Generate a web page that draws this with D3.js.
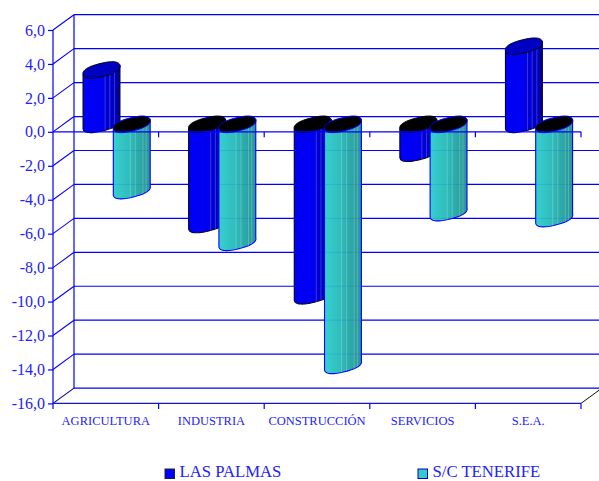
<!DOCTYPE html>
<html>
<head>
<meta charset="utf-8">
<script src="https://cdn.jsdelivr.net/npm/d3@7"></script>
<style>
  html, body { margin: 0; padding: 0; background: #fff; overflow: hidden; }
  text { font-family: "Liberation Serif", serif; fill: #2222ff; }
</style>
</head>
<body>
<svg id="chart" width="599" height="481"></svg>
<script>
const categories = ["AGRICULTURA", "INDUSTRIA", "CONSTRUCCIÓN", "SERVICIOS", "S.E.A."];
const seriesNames = ["LAS PALMAS", "S/C TENERIFE"];
const lasPalmas = [3.2, -5.9, -10.1, -1.7, 4.6];
const tenerife = [-3.9, -6.95, -14.2, -5.2, -5.55];
const yTicks = [6, 4, 2, 0, -2, -4, -6, -8, -10, -12, -14, -16];

const blue = "#0000ff";
const depth = { x: 21, y: -15.3 };
const barW = 36;
const svg = d3.select("#chart");

const y = d3.scaleLinear().domain([-16, 6]).range([403.4, 30]);
const x0 = d3.scaleBand().domain(categories).range([53, 581]);
const x1 = d3.scaleBand().domain(seriesNames).range([30.5, 91]);
const fmt = (d) => d3.format(".1f")(d).replace(".", ",").replace("−", "-");

// gradients for the cylinder sides
const defs = svg.append("defs");
function addGradient(id, stops) {
  const g = defs.append("linearGradient").attr("id", id);
  stops.forEach((s) => g.append("stop").attr("offset", s[0]).attr("stop-color", s[1]));
}
addGradient("gradBlue", [[0, "#0000f8"], [0.55, "#0000f0"], [0.6, "#0000d8"], [0.85, "#0000c0"], [1, "#000098"]]);
addGradient("gradTeal", [[0, "#38cfcf"], [0.45, "#2fbcbc"], [0.6, "#2dafaf"], [1, "#2a9696"]]);

// back wall and gridlines
const gridY = (d) => y(d) + depth.y;
svg.append("g").selectAll("line").data(yTicks).join("line")
  .attr("x1", 53 + depth.x).attr("x2", 600)
  .attr("y1", gridY).attr("y2", gridY)
  .attr("stroke", blue).attr("stroke-width", 1.2);
svg.append("line").attr("x1", 74).attr("x2", 74)
  .attr("y1", y(6) + depth.y).attr("y2", y(-16) + depth.y)
  .attr("stroke", blue).attr("stroke-width", 1.2);
// diagonals on the side wall
svg.append("g").selectAll("line").data(yTicks).join("line")
  .attr("x1", 53).attr("x2", 53 + depth.x)
  .attr("y1", (d) => y(d)).attr("y2", gridY)
  .attr("stroke", (d) => (d === -16 ? "#0000a0" : blue)).attr("stroke-width", 1.1);
svg.append("line").attr("x1", 581).attr("x2", 581 + depth.x)
  .attr("y1", y(-16)).attr("y2", y(-16) + depth.y)
  .attr("stroke", "#111").attr("stroke-width", 1);

// one cylinder, the cap is a slightly squared tilted ellipse like the original
const rx = 19, ry = 6.6, tilt = 14 * Math.PI / 180, power = 2.4;
const spow = (a) => Math.sign(a) * Math.pow(Math.abs(a), 2 / power);
function capPoint(cx, cy, t) {
  const px = rx * spow(Math.cos(t)), py = ry * spow(Math.sin(t));
  return [cx + px * Math.cos(tilt) + py * Math.sin(tilt),
          cy - px * Math.sin(tilt) + py * Math.cos(tilt)];
}
const line = d3.line();
const lowerArc = d3.range(0, 37).map((i) => Math.PI - i * Math.PI / 36);
const wholeCap = d3.range(0, 72).map((i) => i * Math.PI / 36);
let clipId = 0;

function drawBar(g, x, v, gradient, stripes, outline, topFill) {
  const yTop = y(Math.max(v, 0));
  const yBot = y(Math.min(v, 0));
  const cx = x + barW / 2;
  const cyTop = yTop - 7.5, cyBot = yBot - 7.5;
  const pts = lowerArc.map((t) => capPoint(cx, cyBot, t));
  pts.unshift(capPoint(cx, cyTop, Math.PI));
  pts.push(capPoint(cx, cyTop, 0));
  const body = line(pts) + "Z";
  const id = "clip" + clipId++;
  defs.append("clipPath").attr("id", id).append("path").attr("d", body);
  g.append("path").attr("d", body).attr("fill", `url(#${gradient})`)
    .attr("stroke", outline).attr("stroke-width", 1.1);
  const inner = g.append("g").attr("clip-path", `url(#${id})`);
  inner.selectAll("line.stripe").data(stripes).join("line")
    .attr("class", "stripe")
    .attr("x1", (f) => x + f * barW).attr("x2", (f) => x + f * barW)
    .attr("y1", cyTop - 12).attr("y2", cyBot + 12)
    .attr("stroke", "#fff").attr("stroke-opacity", 0.22).attr("stroke-width", 1);
  // the wall lines show faintly through the bars
  inner.selectAll("line.grid").data(yTicks).join("line")
    .attr("class", "grid")
    .attr("x1", x - 2).attr("x2", x + barW + 2)
    .attr("y1", gridY).attr("y2", gridY)
    .attr("stroke", blue).attr("stroke-opacity", 0.1).attr("stroke-width", 1);
  g.append("path").attr("d", line(wholeCap.map((t) => capPoint(cx, cyTop, t))) + "Z")
    .attr("fill", topFill).attr("stroke", outline).attr("stroke-width", 1);
}

const bars = svg.append("g");
categories.forEach((c, i) => {
  const xa = x0(c) + x1(seriesNames[0]);
  const xb = x0(c) + x1(seriesNames[1]);
  drawBar(bars, xa, lasPalmas[i], "gradBlue", [0.6, 0.73, 0.86], "#000020", lasPalmas[i] > 0 ? "#0000c0" : "#000");
  drawBar(bars, xb, tenerife[i], "gradTeal", [0.46, 0.6, 0.81, 0.9], blue, "#000");
});

// y axis
const yAxis = svg.append("g").attr("transform", "translate(53,0)")
  .call(d3.axisLeft(y).tickValues(yTicks).tickFormat(fmt).tickSize(5).tickPadding(3));
yAxis.select(".domain").attr("stroke", blue).attr("stroke-width", 1.2).attr("d", "M0,30V409");
yAxis.selectAll(".tick line").attr("stroke", blue).attr("stroke-width", 1.2);
yAxis.selectAll(".tick text").attr("font-size", 16).attr("font-family", null).attr("fill", null);

// zero line and floor, ticks sit on the category edges
const edges = categories.map((c) => x0(c) + x0.bandwidth());
[0, -16].forEach((v) => {
  svg.append("line").attr("x1", 53).attr("x2", 581).attr("y1", y(v)).attr("y2", y(v))
    .attr("stroke", v === 0 ? blue : "#1515c8").attr("stroke-width", 1.4);
  svg.append("g").selectAll("line").data(edges).join("line")
    .attr("x1", (d) => d).attr("x2", (d) => d)
    .attr("y1", y(v)).attr("y2", y(v) + 5.5)
    .attr("stroke", blue).attr("stroke-width", 1.2);
});

// category labels
const xAxis = svg.append("g").attr("transform", "translate(0,403.4)")
  .call(d3.axisBottom(x0).tickSize(0).tickPadding(13));
xAxis.select(".domain").remove();
xAxis.selectAll(".tick text").attr("font-size", 12.5).attr("font-family", null).attr("fill", null);

// legend
const legendX = d3.scaleOrdinal().domain(seriesNames).range([165, 418]);
const legendFill = d3.scaleOrdinal().domain(seriesNames).range(["#0000ff", "#33cccc"]);
const legend = svg.append("g").selectAll("g").data(seriesNames).join("g")
  .attr("transform", (d) => `translate(${legendX(d)},0)`);
legend.append("rect").attr("x", 0).attr("y", 469).attr("width", 9.5).attr("height", 9.5)
  .attr("fill", (d) => legendFill(d))
  .attr("stroke", (d, i) => (i === 0 ? "#222" : "#0000c0")).attr("stroke-width", 1);
legend.append("text").attr("x", 14.5).attr("y", 477.4).attr("font-size", 16.7).text((d) => d);
</script>
</body>
</html>
